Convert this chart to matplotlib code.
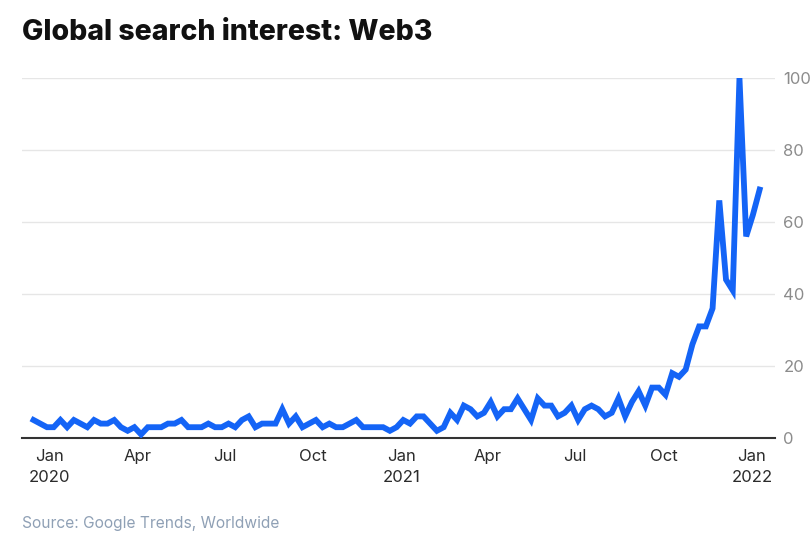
import pandas as pd
import numpy as np
from matplotlib import pyplot as plt

# weekly Google Trends index
start_week = '2019-12-15'
interest = [5, 4, 3, 3, 5, 3, 5, 4, 3, 5, 4, 4, 5, 3, 2, 3, 1, 3, 3, 3,
            4, 4, 5, 3, 3, 3, 4, 3, 3, 4, 3, 5, 6, 3, 4, 4, 4, 8, 4, 6,
            3, 4, 5, 3, 4, 3, 3, 4, 5, 3, 3, 3, 3, 2, 3, 5, 4, 6, 6, 4,
            2, 3, 7, 5, 9, 8, 6, 7, 10, 6, 8, 8, 11, 8, 5, 11, 9, 9, 6, 7,
            9, 5, 8, 9, 8, 6, 7, 11, 6, 10, 13, 9, 14, 14, 12, 18, 17, 19, 26, 31,
            31, 36, 66, 44, 41, 100, 56, 62, 69]
y_ticks = [0, 20, 40, 60, 80, 100]
x_ticks = ['2020-01-01', '2020-04-01', '2020-07-01', '2020-10-01', '2021-01-01',
           '2021-04-01', '2021-07-01', '2021-10-01', '2022-01-01']
x_labels = ['Jan\n2020', 'Apr', 'Jul', 'Oct', 'Jan\n2021', 'Apr', 'Jul', 'Oct', 'Jan\n2022']

weeks = pd.date_range(start_week, periods=len(interest), freq='7D')

fig = plt.figure(figsize=(8.12, 5.33), dpi=100)
ax = fig.add_axes([22 / 812, 1 - 438 / 533, (775 - 22) / 812, 360 / 533])

ax.plot(weeks, interest, color='#1464f6', lw=4.2, solid_joinstyle='miter', zorder=3)

ax.set_ylim(0, 100)
ax.set_xlim(pd.Timestamp('2019-12-03'), pd.Timestamp('2022-01-25'))
ax.set_yticks(y_ticks)
ax.yaxis.tick_right()
ax.tick_params(axis='y', length=0, pad=6, labelsize=12, labelcolor='#8c8c8c')
for t in ax.get_yticklabels():
    t.set_fontfamily('Inter')
ax.grid(axis='y', color='#e6e6e6', lw=1)
ax.set_axisbelow(True)

ax.set_xticks(pd.to_datetime(x_ticks))
ax.set_xticklabels(x_labels, fontsize=12, color='#2b2b2b', family='Inter', linespacing=1.5)
ax.tick_params(axis='x', length=0, pad=8)

for s in ['top', 'left', 'right']:
    ax.spines[s].set_visible(False)
ax.spines['bottom'].set_color('#333333')
ax.spines['bottom'].set_linewidth(1.5)

fig.text(22 / 812, 1 - 40 / 533, 'Global search interest: Web3', fontsize=20.5,
         fontweight='heavy', family='Inter', color='#111111')
fig.text(22 / 812, 1 - 528 / 533, 'Source: Google Trends, Worldwide', fontsize=11.2,
         family='Inter', color='#8fa0b5')

fig.savefig('out.png', dpi=100)
